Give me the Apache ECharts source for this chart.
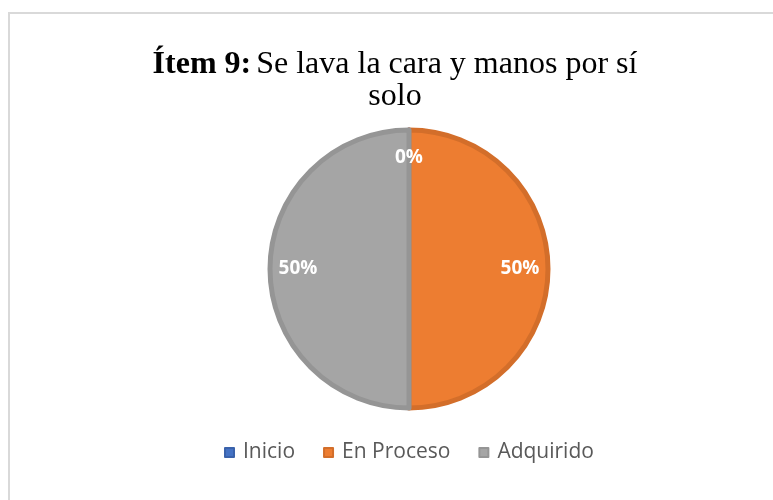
<!DOCTYPE html>
<html>
<head>
<meta charset="utf-8">
<script src="https://cdn.jsdelivr.net/npm/echarts@6/dist/echarts.min.js"></script>
<style>
  html, body { margin: 0; padding: 0; background: #fff; }
  #chart { width: 773px; height: 500px; }
</style>
</head>
<body>
<div id="chart"></div>
<script>
// datos del gráfico
var categorias = ['Inicio', 'En Proceso', 'Adquirido'];
var valores = [0, 50, 50];
var colores = ['#4472C4', '#ED7D31', '#A5A5A5'];
var bordes = ['#3A62AB', '#D36E2A', '#959595'];

var chart = echarts.init(document.getElementById('chart'));

var datosPie = categorias.map(function (c, i) {
  return {
    name: c,
    value: valores[i],
    itemStyle: { color: colores[i], borderColor: bordes[i] }
  };
});
var datosEtiquetas = categorias.map(function (c, i) {
  return { name: c, value: valores[i] };
});

var option = {
  backgroundColor: '#fff',
  animation: false,
  graphic: [{
    type: 'rect',
    shape: { x: 9, y: 13, width: 820, height: 560 },
    style: { fill: 'none', stroke: '#d9d9d9', lineWidth: 2 },
    silent: true
  }],
  title: {
    text: '{b|Ítem 9:} {n|Se lava la cara y manos por sí}\n{n|solo}',
    left: 390,
    top: 44,
    textAlign: 'center',
    textStyle: {
      fontWeight: 'normal',
      rich: {
        b: { fontFamily: 'Liberation Serif', fontSize: 32, fontWeight: 'bold', color: '#000', lineHeight: 32 },
        n: { fontFamily: 'Liberation Serif', fontSize: 32, fontWeight: 'normal', color: '#000', lineHeight: 32 }
      }
    }
  },
  legend: {
    data: categorias,
    bottom: 32,
    left: 219,
    icon: 'rect',
    itemWidth: 9,
    itemHeight: 9,
    itemGap: 28,
    textStyle: { fontFamily: 'Open Sans', fontSize: 21, color: '#595959', padding: [0, 0, 0, 4] }
  },
  series: [
    {
      name: 'Ítem 9',
      type: 'pie',
      center: [409, 269],
      radius: 139,
      startAngle: 90,
      clockwise: true,
      itemStyle: { borderWidth: 5 },
      label: { show: false },
      labelLine: { show: false },
      emphasis: { disabled: true },
      data: datosPie
    },
    {
      name: 'etiquetas',
      type: 'pie',
      center: [409, 269],
      radius: [77, 139],
      startAngle: 90,
      clockwise: true,
      silent: true,
      itemStyle: { color: 'rgba(0,0,0,0)', borderWidth: 0 },
      label: {
        show: true,
        position: 'inside',
        formatter: '{d}%',
        color: '#fff',
        fontFamily: 'Open Sans',
        fontWeight: 'bold',
        fontSize: 19
      },
      labelLine: { show: false },
      emphasis: { disabled: true },
      data: datosEtiquetas
    }
  ]
};

chart.setOption(option);
</script>
</body>
</html>
